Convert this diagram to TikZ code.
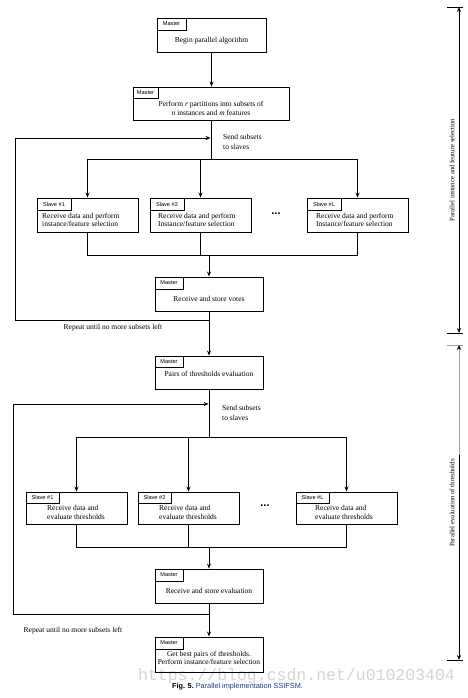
\documentclass[tikz,border=0pt]{standalone}
\usepackage{fontspec}
\setmainfont{Liberation Serif}
\newfontfamily\tagfont{Liberation Sans}
\newfontfamily\wmfont{Liberation Mono}
\usetikzlibrary{arrows.meta}
\definecolor{capblue}{RGB}{30,60,130}
\definecolor{wmgray}{RGB}{212,212,212}
\definecolor{brgray}{RGB}{160,160,160}
\begin{document}
\begin{tikzpicture}[x=1pt,y=-1pt,
  box/.style={draw, line width=0.9pt, inner sep=0pt},
  tagbox/.style={draw, line width=0.9pt, inner sep=0pt, anchor=north west,
    font=\tagfont\fontsize{5.6}{6}\selectfont, minimum height=12},
  txt/.style={font=\fontsize{7.5}{8.7}\selectfont, align=center, inner sep=0pt},
  ltxt/.style={txt, align=left, anchor=west},
  sendtxt/.style={font=\fontsize{7.5}{10}\selectfont, align=left, anchor=west, inner sep=0pt},
  dotstyle/.style={font=\tagfont\bfseries\fontsize{11}{12}\selectfont, inner sep=0pt},
  line/.style={line width=0.9pt},
  arr/.style={line, -{Stealth[length=5pt,width=4pt]}},
  darr/.style={line, {Stealth[length=5pt,width=4pt]}-{Stealth[length=5pt,width=4pt]}}
]
\fill[white] (0,0) rectangle (468,698);
\useasboundingbox (0,0) rectangle (468,698);

% watermark (behind)
\node[text=wmgray, inner sep=0pt] (wm) at (296.5,676) {\wmfont\fontsize{16.5}{18}\selectfont https://blog.csdn.net/u010203404};

% ---------- upper part ----------
\node[box, minimum width=109, minimum height=34] (m1) at (211.5,35) {};
\node[tagbox, minimum width=29] (m1t) at (m1.north west) {Master};
\node[txt] (m1x) at (211.5,41) {Begin parallel algorithm};

\node[box, minimum width=156, minimum height=33] (m2) at (211,103.5) {};
\node[tagbox, minimum width=25, minimum height=11] (m2t) at (m2.north west) {Master};
\node[txt] (m2x) at (211,108.5) {Perform \textit{r} partitions into subsets of\\\textit{n} instances and \textit{m} features};

\draw[arr] (m1.south) -- (m1.south |- m2.north);

\node[box, minimum width=101, minimum height=34] (s1) at (87.5,215) {};
\node[tagbox, minimum width=34] (s1t) at (s1.north west) {Slave \#1};
\node[ltxt] (s1x) at (42,220) {Receive data and perform\\instance/feature selection};

\node[box, minimum width=101, minimum height=34] (s2) at (200.5,215) {};
\node[tagbox, minimum width=34] (s2t) at (s2.north west) {Slave \#2};
\node[ltxt] (s2x) at (158,220) {Receive data and perform\\Instance/feature selection};

\node[box, minimum width=101, minimum height=34] (sL) at (357.5,215) {};
\node[tagbox, minimum width=34] (sLt) at (sL.north west) {Slave \#L};
\node[ltxt] (sLx) at (316,220) {Receive data and perform\\Instance/feature selection};

\node[dotstyle] (d1) at (276,214) {...};

\coordinate (b1) at (211,159);
\draw[line] (m2.south) -- (b1);
\draw[arr] (b1) -| (s1.north);
\draw[arr] (b1) -| (s2.north);
\draw[arr] (b1) -| (sL.north);

\node[sendtxt] (snd1) at (223,141.5) {Send subsets\\to slaves};

\node[box, minimum width=108, minimum height=34] (m3) at (209,294) {};
\node[tagbox, minimum width=28] (m3t) at (m3.north west) {Master};
\node[txt] (m3x) at (209,299) {Receive and store votes};

\coordinate (b2) at (209,255);
\draw[line] (s1.south) |- (b2);
\draw[line] (sL.south) |- (b2);
\draw[line] (s2.south) -- (s2.south |- b2);
\draw[arr] (b2) -- (m3.north);

\node[box, minimum width=108, minimum height=33] (m4) at (209,372.5) {};
\node[tagbox, minimum width=28, minimum height=11] (m4t) at (m4.north west) {Master};
\node[txt] (m4x) at (209,374) {Pairs of thresholds evaluation};

\draw[arr] (m3.south) -- (m4.north);
\coordinate (j1) at (209,320);
\coordinate (l1) at (210.6,138);
\draw[arr] (j1) -- (15,320) -- (15,138) -- (l1);
\node[txt] (rep1) at (113,328) {Repeat until no more subsets left};

% ---------- lower part ----------
\node[box, minimum width=101, minimum height=32] (t1) at (76.5,508) {};
\node[tagbox, minimum width=33, minimum height=11] (t1t) at (t1.north west) {Slave \#1};
\node[ltxt] (t1x) at (47,512.5) {Receive data and\\evaluate thresholds};

\node[box, minimum width=101, minimum height=32] (t2) at (188.5,508) {};
\node[tagbox, minimum width=33, minimum height=11] (t2t) at (t2.north west) {Slave \#2};
\node[ltxt] (t2x) at (159,512.5) {Receive data and\\evaluate thresholds};

\node[box, minimum width=101, minimum height=32] (tL) at (346.5,508) {};
\node[tagbox, minimum width=33, minimum height=11] (tLt) at (tL.north west) {Slave \#L};
\node[ltxt] (tLx) at (315,512.5) {Receive data and\\evaluate thresholds};

\node[dotstyle] (d2) at (265,506) {...};

\coordinate (b3) at (209,437);
\draw[line] (m4.south) -- (b3);
\draw[arr] (b3) -| (t1.north);
\draw[arr] (b3) -| (t2.north);
\draw[arr] (b3) -| (tL.north);

\node[sendtxt] (snd2) at (222,412.5) {Send subsets\\to slaves};

\node[box, minimum width=108, minimum height=34] (m5) at (209,586) {};
\node[tagbox, minimum width=28] (m5t) at (m5.north west) {Master};
\node[txt] (m5x) at (209,591) {Receive and store evaluation};

\coordinate (b4) at (209,547);
\draw[line] (t1.south) |- (b4);
\draw[line] (tL.south) |- (b4);
\draw[line] (t2.south) -- (t2.south |- b4);
\draw[arr] (b4) -- (m5.north);

\node[box, minimum width=108, minimum height=35] (m6) at (209,654.5) {};
\node[tagbox, minimum width=28] (m6t) at (m6.north west) {Master};
\node[txt] (m6x) at (209,658) {Get best pairs of thresholds.\\Perform instance/feature selection};

\draw[arr] (m5.south) -- (m6.north);
\coordinate (j2) at (209,614);
\coordinate (l2) at (208.6,404);
\draw[arr] (j2) -- (13,614) -- (13,404) -- (l2);
\node[txt] (rep2) at (73,631) {Repeat until no more subsets left};

% ---------- side brackets ----------
\coordinate (k1) at (459,7);
\coordinate (k2) at (459,333);
\draw[line] (447,7) -- (463,7);
\draw[line] (447,333) -- (463,333);
\draw[darr] (k1) -- (k2);
\node[txt, rotate=90, font=\fontsize{6.8}{8}\selectfont] (lab1) at (452,170) {Parallel instance and feature selection};

\coordinate (k3) at (459,345);
\coordinate (k4) at (459,455);
\coordinate (k5) at (459,660);
\draw[line, brgray] (447,345) -- (463,345);
\draw[line] (447,660) -- (463,660);
\draw[line, brgray, {Stealth[length=5pt,width=4pt,black]}-] (k3) -- (k4);
\draw[arr] (k4) -- (k5);
\node[txt, rotate=90, font=\fontsize{6.8}{8}\selectfont, fill=white, inner sep=1pt] (lab2) at (452,503) {Parallel evaluation of thresholds};

% caption
\node[inner sep=0pt] (cap) at (237.5,687) {\tagfont\fontsize{7.3}{8}\selectfont\textbf{Fig. 5.}\ \textcolor{capblue}{Parallel implementation SSIFSM.}};
\end{tikzpicture}
\end{document}
